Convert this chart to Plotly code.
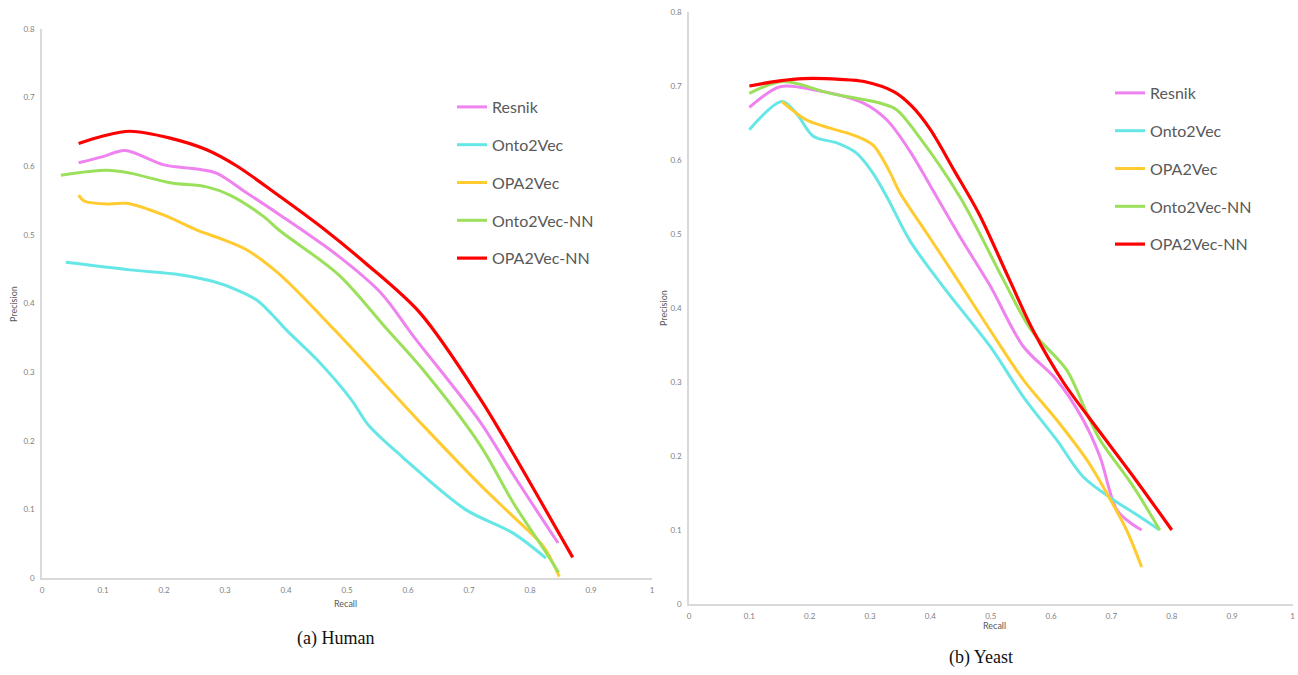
import plotly.graph_objects as go

SERIES = ["Resnik", "Onto2Vec", "OPA2Vec", "Onto2Vec-NN", "OPA2Vec-NN"]
COLORS = ["#EE82EE", "#66E6E6", "#FFCB2F", "#9BE05A", "#FF0000"]
WIDTHS = [3, 3, 3, 3, 3.2]

# ---- (a) Human ----
human_resnik_x = [0.06, 0.10, 0.136, 0.20, 0.254, 0.286, 0.336, 0.39, 0.486, 0.556, 0.611, 0.718, 0.773, 0.846]
human_resnik_y = [0.605, 0.614, 0.623, 0.602, 0.596, 0.590, 0.561, 0.529, 0.469, 0.415, 0.350, 0.228, 0.150, 0.051]

human_onto_x = [0.039, 0.144, 0.226, 0.281, 0.319, 0.352, 0.375, 0.40, 0.451, 0.507, 0.535, 0.59, 0.694, 0.773, 0.826]
human_onto_y = [0.460, 0.449, 0.442, 0.432, 0.420, 0.405, 0.386, 0.362, 0.318, 0.260, 0.223, 0.177, 0.100, 0.065, 0.029]

human_opa_x = [0.06, 0.07, 0.111, 0.139, 0.199, 0.254, 0.297, 0.336, 0.39, 0.479, 0.625, 0.718, 0.773, 0.822, 0.848]
human_opa_y = [0.558, 0.549, 0.545, 0.546, 0.529, 0.507, 0.493, 0.478, 0.442, 0.362, 0.222, 0.136, 0.089, 0.046, 0.002]

human_ontonn_x = [0.031, 0.106, 0.144, 0.21, 0.27, 0.308, 0.363, 0.39, 0.486, 0.566, 0.625, 0.718, 0.773, 0.827, 0.847]
human_ontonn_y = [0.587, 0.594, 0.590, 0.576, 0.570, 0.558, 0.527, 0.506, 0.442, 0.362, 0.303, 0.194, 0.109, 0.036, 0.008]

human_opann_x = [0.06, 0.10, 0.144, 0.21, 0.27, 0.32, 0.39, 0.46, 0.53, 0.62, 0.72, 0.77, 0.87]
human_opann_y = [0.633, 0.644, 0.651, 0.641, 0.624, 0.600, 0.556, 0.510, 0.459, 0.386, 0.259, 0.185, 0.030]

# ---- (b) Yeast ----
yeast_resnik_x = [0.10, 0.151, 0.206, 0.289, 0.328, 0.366, 0.40, 0.45, 0.499, 0.554, 0.609, 0.653, 0.681, 0.709, 0.736, 0.75]
yeast_resnik_y = [0.671, 0.699, 0.695, 0.677, 0.654, 0.612, 0.565, 0.495, 0.430, 0.348, 0.303, 0.249, 0.199, 0.127, 0.107, 0.100]

yeast_onto_x = [0.10, 0.154, 0.178, 0.206, 0.245, 0.278, 0.305, 0.328, 0.366, 0.421, 0.499, 0.554, 0.609, 0.653, 0.703, 0.747, 0.78]
yeast_onto_y = [0.641, 0.679, 0.663, 0.632, 0.623, 0.609, 0.582, 0.550, 0.491, 0.429, 0.348, 0.280, 0.222, 0.172, 0.141, 0.118, 0.100]

yeast_opa_x = [0.154, 0.195, 0.234, 0.278, 0.305, 0.330, 0.350, 0.394, 0.449, 0.499, 0.554, 0.609, 0.659, 0.692, 0.725, 0.75]
yeast_opa_y = [0.679, 0.654, 0.643, 0.632, 0.620, 0.588, 0.555, 0.501, 0.433, 0.370, 0.303, 0.249, 0.195, 0.150, 0.100, 0.050]

yeast_ontonn_x = [0.10, 0.156, 0.234, 0.316, 0.344, 0.377, 0.449, 0.521, 0.567, 0.626, 0.659, 0.681, 0.736, 0.78]
yeast_ontonn_y = [0.690, 0.706, 0.690, 0.677, 0.668, 0.636, 0.550, 0.438, 0.370, 0.316, 0.258, 0.222, 0.159, 0.100]

yeast_opann_x = [0.10, 0.15, 0.19, 0.25, 0.29, 0.34, 0.37, 0.40, 0.44, 0.48, 0.53, 0.57, 0.62, 0.66, 0.74, 0.80]
yeast_opann_y = [0.700, 0.707, 0.710, 0.709, 0.706, 0.692, 0.672, 0.641, 0.585, 0.528, 0.440, 0.370, 0.300, 0.255, 0.168, 0.100]

X_TICKS = [0, 0.1, 0.2, 0.3, 0.4, 0.5, 0.6, 0.7, 0.8, 0.9, 1]
Y_TICKS = [0, 0.1, 0.2, 0.3, 0.4, 0.5, 0.6, 0.7, 0.8]
CAPTIONS = ["(a) Human", "(b) Yeast"]
X_TITLE = "Recall"
Y_TITLE = "Precision"

human = [(human_resnik_x, human_resnik_y), (human_onto_x, human_onto_y), (human_opa_x, human_opa_y),
         (human_ontonn_x, human_ontonn_y), (human_opann_x, human_opann_y)]
yeast = [(yeast_resnik_x, yeast_resnik_y), (yeast_onto_x, yeast_onto_y), (yeast_opa_x, yeast_opa_y),
         (yeast_ontonn_x, yeast_ontonn_y), (yeast_opann_x, yeast_opann_y)]

W, H = 1298, 675
fig = go.Figure()

for i, (xs, ys) in enumerate(human):
    fig.add_trace(go.Scatter(x=xs, y=ys, mode="lines", name=SERIES[i], xaxis="x", yaxis="y",
                             line=dict(color=COLORS[i], width=WIDTHS[i], shape="spline", smoothing=0.9),
                             legend="legend", legendgroup="h%d" % i))
for i, (xs, ys) in enumerate(yeast):
    fig.add_trace(go.Scatter(x=xs, y=ys, mode="lines", name=SERIES[i], xaxis="x2", yaxis="y2",
                             line=dict(color=COLORS[i], width=WIDTHS[i], shape="spline", smoothing=0.9),
                             legend="legend2", legendgroup="y%d" % i))

def px_x(p):
    return p / W

def px_y(p):
    return 1 - p / H

axis_common = dict(showgrid=False, zeroline=False, showline=True, linecolor="#D9D9D9", linewidth=1.5,
                   ticks="", tickfont=dict(family="Lato", size=8, color="#7F7F7F"), fixedrange=True,
                   automargin=False)

fig.update_layout(
    width=W, height=H, margin=dict(l=0, r=0, t=0, b=0, autoexpand=False),
    paper_bgcolor="white", plot_bgcolor="white",
    xaxis=dict(domain=[px_x(42), px_x(652)], range=[0, 1], tickvals=X_TICKS, anchor="y",
               ticklabelstandoff=4, **axis_common),
    yaxis=dict(domain=[px_y(578), px_y(29)], range=[0, 0.8], tickvals=Y_TICKS, anchor="x",
               ticklabelstandoff=4, **axis_common),
    xaxis2=dict(domain=[px_x(689), px_x(1292.5)], range=[0, 1], tickvals=X_TICKS, anchor="y2",
                ticklabelstandoff=4, **axis_common),
    yaxis2=dict(domain=[px_y(604), px_y(12)], range=[0, 0.8], tickvals=Y_TICKS, anchor="x2",
                ticklabelstandoff=4, **axis_common),
    legend=dict(x=px_x(452), y=px_y(90), xanchor="left", yanchor="top", bgcolor="rgba(0,0,0,0)",
                font=dict(family="Lato", size=16, color="#595959"), tracegroupgap=14, itemwidth=30),
    legend2=dict(x=px_x(1110), y=px_y(76), xanchor="left", yanchor="top", bgcolor="rgba(0,0,0,0)",
                 font=dict(family="Lato", size=16, color="#595959"), tracegroupgap=14, itemwidth=30),
    showlegend=True,
    hovermode=False,
)

ann_font = dict(family="Lato", size=9, color="#595959")
cap_font = dict(family="Liberation Serif", size=18, color="#111111")
fig.add_annotation(x=px_x(345), y=px_y(603), xref="paper", yref="paper", text=X_TITLE,
                   showarrow=False, font=ann_font, xanchor="center", yanchor="middle")
fig.add_annotation(x=px_x(994), y=px_y(625), xref="paper", yref="paper", text=X_TITLE,
                   showarrow=False, font=ann_font, xanchor="center", yanchor="middle")
fig.add_annotation(x=px_x(14), y=px_y(304), xref="paper", yref="paper", text=Y_TITLE, textangle=-90,
                   showarrow=False, font=ann_font, xanchor="center", yanchor="middle")
fig.add_annotation(x=px_x(663), y=px_y(308), xref="paper", yref="paper", text=Y_TITLE, textangle=-90,
                   showarrow=False, font=ann_font, xanchor="center", yanchor="middle")
fig.add_annotation(x=px_x(335), y=px_y(638), xref="paper", yref="paper", text=CAPTIONS[0],
                   showarrow=False, font=cap_font, xanchor="center", yanchor="middle")
fig.add_annotation(x=px_x(981), y=px_y(657), xref="paper", yref="paper", text=CAPTIONS[1],
                   showarrow=False, font=cap_font, xanchor="center", yanchor="middle")

fig.write_html("out.html", config={"displayModeBar": False},
               post_script="document.body.style.margin='0';document.body.style.padding='0';")
